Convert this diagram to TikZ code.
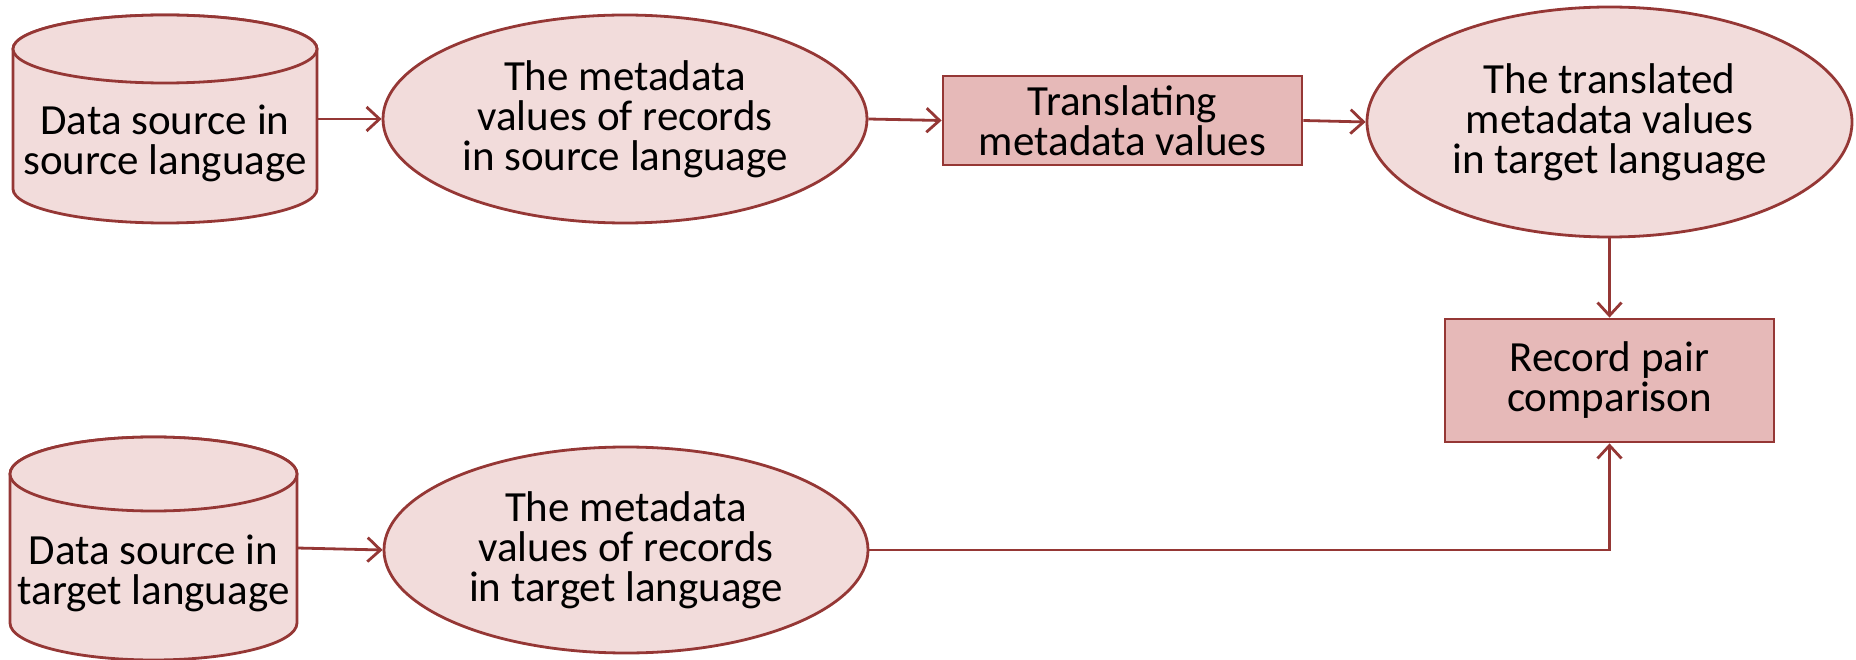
\documentclass[tikz,border=0pt]{standalone}
\usepackage{fontspec}
\setmainfont{Carlito}
\usetikzlibrary{shapes.geometric,arrows.meta}
\definecolor{edge}{HTML}{953735}
\definecolor{lightfill}{HTML}{F2DCDB}
\definecolor{boxfill}{HTML}{E6B9B8}
\tikzset{
  every node/.style={font=\fontsize{43}{40}\selectfont, align=center, inner sep=0pt},
  ellbox/.style={ellipse, draw=edge, fill=lightfill, line width=2.8pt, minimum width=484pt},
  procbox/.style={rectangle, draw=edge, fill=boxfill, line width=2.8pt},
  cyl/.style={draw=edge, fill=lightfill, line width=2.8pt},
  conn/.style={draw=edge, line width=2.8pt, -{Straight Barb[length=13pt,width=24pt]}},
}
\begin{document}
\begin{tikzpicture}[x=1pt,y=-1pt]
\useasboundingbox (0,0) rectangle (1856,660);
% cylinder 1
\path[cyl] (13,49) -- (13,189) arc[start angle=180,end angle=360,x radius=152pt,y radius=34pt] -- (317,49) arc[start angle=0,end angle=180,x radius=152pt,y radius=34pt] -- cycle;
\draw[cyl] (165,49) ellipse[x radius=152pt,y radius=34pt];
\node (cyl1) at (165,143) {Data source in\\source language};
\coordinate (cyl1e) at (317,119);
% cylinder 2
\path[cyl] (10,474) -- (10,623) arc[start angle=180,end angle=360,x radius=143.5pt,y radius=37pt] -- (297,474) arc[start angle=0,end angle=180,x radius=143.5pt,y radius=37pt] -- cycle;
\draw[cyl] (153.5,474) ellipse[x radius=143.5pt,y radius=37pt];
\node (cyl2) at (153.5,573) {Data source in\\target language};
\coordinate (cyl2e) at (297,548);
% ellipses
\node[ellbox, minimum height=208pt] (e1) at (625,119) {The metadata\\values of records\\in source language};
\node[ellbox, minimum height=206pt] (e2) at (626,550) {The metadata\\values of records\\in target language};
\node[ellbox, minimum width=485pt, minimum height=230pt] (e3) at (1609.5,122) {The translated\\metadata values\\in target language};
% boxes
\node[procbox, minimum width=359pt, minimum height=89pt] (tr) at (1122.5,120.5) {Translating\\metadata values};
\node[procbox, minimum width=329pt, minimum height=123pt] (rec) at (1609.5,380.5) {Record pair\\comparison};
% connectors
\draw[conn] (cyl1e) -- (e1.west);
\draw[conn] (cyl2e) -- (e2.west);
\draw[conn] (e1.east) -- (tr.west);
\draw[conn] (tr.east) -- (e3.west);
\draw[conn] (e3.south) -- (rec.north);
\draw[conn] (e2.east) -- (rec.south |- e2.east) -- (rec.south);
\end{tikzpicture}
\end{document}
